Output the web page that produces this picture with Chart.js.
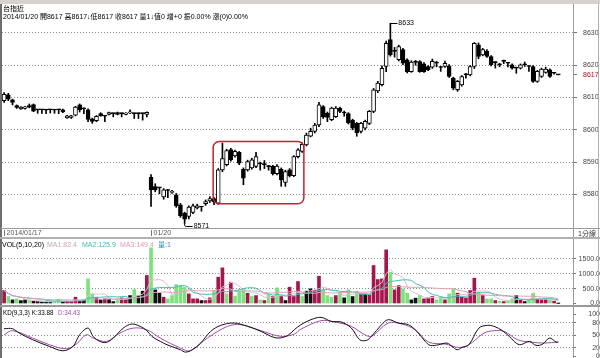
<!DOCTYPE html>
<html><head><meta charset="utf-8">
<script src="https://cdn.jsdelivr.net/npm/chart.js@4.4.1/dist/chart.umd.min.js"></script>
<style>
html,body{margin:0;padding:0;background:#fff}
body{position:relative;width:600px;height:358px;overflow:hidden}
canvas{position:absolute;left:0}
.t{position:absolute;font:7px/8px "Liberation Sans","Noto Sans CJK TC",sans-serif;white-space:pre;color:#000}
.l{position:absolute}
</style></head><body>
<canvas id="cMain" width="600" height="238" style="top:0"></canvas>
<canvas id="cVol" width="600" height="70" style="top:238px"></canvas>
<canvas id="cKD" width="600" height="52" style="top:306px"></canvas>

<div class="l" style="left:0;top:0;width:600px;height:4px;background:#d5d2cc"></div>
<div class="l" style="left:0;top:4px;width:2px;height:354px;background:#6e6e6e"></div>
<div class="l" style="left:573px;top:4px;width:1px;height:354px;background:#9a9a9a"></div>
<div class="l" style="left:598px;top:4px;width:1px;height:354px;background:#b0b0b0"></div>
<div class="l" style="left:0;top:228px;width:600px;height:1px;background:#9a9a9a"></div>
<div class="l" style="left:0;top:237px;width:600px;height:2px;background:#b0b0b0"></div>
<div class="l" style="left:0;top:305px;width:600px;height:2px;background:#9a9a9a"></div>

<div class="t" style="left:3px;top:5px">台指近</div>
<div class="t" style="left:3px;top:13px">2014/01/20 開8617 高8617↓低8617 收8617 量1↓值0 增+0 振0.00% 漲(0)0.00%</div>
<div class="t" style="left:578px;top:230px;color:#333">1分線</div>
<div class="t" style="left:2px;top:241px">VOL(5,10,20)</div>
<div class="t" style="left:47px;top:241px;color:#c9a7b4">MA1:82.4</div>
<div class="t" style="left:82px;top:241px;color:#3fb7b7">MA2:125.9</div>
<div class="t" style="left:120px;top:241px;color:#dc9aae">MA3:149.4</div>
<div class="t" style="left:158px;top:241px;color:#2f8fb0">量:1</div>
<div class="t" style="left:3px;top:309px;font-size:6.3px">KD(9,3,3) K:33.88</div>
<div class="t" style="left:58px;top:309px;font-size:6.3px;color:#a24aa8">D:34.43</div>

<script>
// ---------- data ----------
const dayLabels = ['2014/01/17', '01/20'];
const dayStart = [0, 35];

const openP = [8609,8610.8,8609.3,8607.5,8606.5,8606.6,8607.5,8607.8,8606.2,8606.2,8606.1,8606.2,8606.1,8606.2,8606.2,8603.7,8603.8,8604.5,8607.7,8606.5,8606.2,8603.4,8602.8,8605,8604.2,8604.8,8605,8605.3,8605,8604.8,8605.2,8605,8605,8605,8604.8,
 8585.3,8582.4,8582,8579.2,8581.2,8580.6,8579.9,8576.8,8574.2,8573.2,8574.4,8575.8,8576.1,8577.1,8578,8578.7,8577.3,8587.6,8589.2,8593.9,8591.9,8593,8587.8,8587.6,
 8588.2,8588.7,8589.5,8589.2,8588.6,8588.7,8586.4,8587.8,8583.7,8587.6,8585.8,8591.7,8593.3,8595.3,8598,8599.5,8601.5,8607.2,8605.1,8603.1,8604.1,8606.7,8605.2,8605,8603,8602,8599.5,8600.5,8602,8605.7,8612,8614,8619.6,8627.9,
 8624.3,8621.7,8624.8,8621.7,8618,8620.9,8621.1,8620.4,8619.6,8619.4,8620.6,8619.3,8619.6,8619.8,8616,8612.4,8613.9,8617,8617,8619.6,8626.3,8623.2,8624.3,8622.7,8620.8,8620.1,8621.2,8620.6,8620.1,8619.1,8619.1,8620.1,8619.6,8619.6,8615,8616.5,8617.8,8618.6,8617.5,8617];
const highP = [8611.5,8611.3,8609.5,8607.7,8607.2,8607.3,8608,8608,8606.3,8606.3,8606.3,8606.4,8606.3,8606.4,8606.4,8604.5,8604.5,8607.3,8608,8606.8,8606.5,8603.6,8604.4,8605.3,8604.4,8605.5,8605.2,8605.5,8605.2,8605.3,8606.2,8605.2,8605.2,8605.2,8605.6,
 8586.1,8583.3,8582.2,8581.8,8581.6,8581.3,8580.3,8577.2,8574.5,8576.5,8577,8577,8576.3,8578.3,8579.3,8579,8588,8595.9,8594,8594.3,8593.7,8593.3,8588.2,8590.6,
 8591.2,8593,8590,8590.5,8589,8589,8589.2,8588.2,8587.5,8588,8592,8594.2,8596,8599,8600.5,8602,8608.5,8607.5,8605.5,8607,8607.2,8607,8605.8,8605.3,8603.3,8602.3,8602.3,8603,8606,8612.8,8615,8619.8,8627.5,8633,
 8625.5,8626.2,8625.2,8622,8621.4,8621.5,8621.4,8620.8,8619.9,8621.9,8621.2,8619.6,8621.3,8620.2,8616.3,8615.3,8616.8,8617.5,8619.9,8627,8626.9,8625.2,8624.8,8623,8621.1,8620.6,8621.6,8620.9,8620.4,8619.4,8620.4,8621,8619.9,8619.9,8618.4,8619.1,8619.4,8618.9,8617.8,8617];
const lowP = [8608.5,8609,8607.7,8606.6,8606.3,8606.4,8606.8,8605.6,8605.1,8605.1,8605,8605.2,8605.1,8605,8605.3,8603.5,8603.5,8604.3,8605.5,8605,8602.5,8602,8602.5,8604.2,8602.5,8604.6,8604,8604.6,8604,8604.6,8605,8603.5,8603.5,8603,8604,
 8576.3,8580.8,8580.2,8578.5,8579,8580.3,8576,8572.9,8571,8572.4,8574,8575.5,8574.8,8576.6,8577.5,8576.8,8576.9,8587,8588.8,8590.3,8591.5,8589.2,8583,8587.2,
 8587.8,8588.3,8587.5,8588,8587.5,8586,8586,8582.5,8582.5,8585.4,8585.5,8591.3,8593,8595,8597.8,8599,8601,8603.5,8602.5,8602.8,8603.8,8605.3,8604.2,8601.8,8600,8598,8599,8600,8601.6,8605.3,8611.5,8613.6,8618,8622.8,
 8622.5,8621.3,8620.2,8617.6,8617.8,8620,8617.8,8617.8,8618.3,8619,8619.5,8618.1,8619.3,8616.2,8612.4,8611.9,8613.5,8616,8616.7,8619,8622,8622.9,8622.4,8619.8,8619.1,8619.5,8620.5,8619.5,8618.8,8617.5,8618.8,8619.6,8618.1,8614.7,8614.7,8616.2,8617.5,8616.2,8617.2,8617];
const closeP = [8611,8609.5,8608.5,8606.9,8607,8607.1,8607,8605.8,8606.2,8606.2,8606.1,8606.2,8606.1,8606.2,8605.5,8604.3,8604.3,8607,8606.2,8606.5,8603.2,8602.6,8604.2,8604.3,8604.2,8605.3,8605,8604.8,8605,8605.2,8605.6,8605,8605,8605,8605.4,
 8581.4,8581.4,8582,8581.4,8581.2,8581,8576.5,8573.4,8572.3,8576.1,8576.5,8576.5,8576.1,8577.8,8578.7,8577.7,8587.6,8591.1,8593.6,8590.7,8593.3,8589.7,8585,8590.2,
 8590.7,8591.7,8589.5,8589.2,8588.6,8586.4,8588.8,8584.5,8587.1,8585.8,8591.7,8593.8,8595.5,8598.4,8599.5,8601.5,8607.7,8604,8603.8,8606.7,8606.7,8605.7,8605.2,8602.1,8600.5,8599,8602,8602.6,8605.7,8612.4,8614.5,8619,8626.8,8623.2,
 8624.3,8625.8,8620.6,8618,8621,8620.9,8618,8618,8618.6,8621.2,8620.6,8619.3,8620.6,8616.5,8612.9,8615,8616.5,8617,8619.6,8626.8,8622.7,8624.8,8622.7,8620.1,8620.8,8620.1,8621.2,8620.6,8619.1,8619.1,8620.1,8620.1,8619.6,8615,8618.1,8618.8,8618.8,8616.5,8617.5,8617];

const volume = [437,235,122,156,100,122,100,77,65,55,50,50,65,145,65,75,65,212,100,122,830,325,190,122,156,145,65,156,190,156,268,471,268,415,943,
 1876,460,347,212,156,268,639,605,549,325,156,156,
 100,100,190,437,887,1201,325,718,246,437,493,347,246,268,122,100,302,235,527,235,100,549,235,740,235,415,493,437,920,460,268,212,268,381,190,460,235,415,325,325,291,1280,808,830,1808,1055,
 460,605,493,347,122,179,268,156,190,235,122,212,122,325,493,347,212,190,437,853,381,268,156,156,100,77,65,100,156,268,122,65,122,347,145,122,122,122,77,1];
// M = up (maroon), G = down (green), K = flat (black)
const volDir = ('MGKGKKGKKKKKGGKMMMKKGGMKMKKGMMKGKKM' + 'GKKMGGGGGMMM' +
 'KMMGMMGMGGGMGMGMGMGMKMMMGKKMMGGGMGKGKGMKMMMMMG' +
 'MMGGKKGMMMGGMGGMMMMMGMGGMGMGGKMKGGMMMGMK').split('');

const kIdx = [0,2,3.6,6.8,10.8,14,16.4,18,20,21.2,22.8,24.4,26,28.4,30.4,32.4,34,35.2,37.2,38.8,42,43.2,44.8,46.8,49.2,51.6,54.8,58,61.2,63.6,65.5,67.6,69.1,70.7,73.1,75.5,77.9,80.3,82.7,84.7,86.3,87.5,89.9,91.5,93.9,96.3,98.3,100.3,101.5,103.5,105.5,106.7,107.9,109.1,110.7,113.1,115.1,116.7,118.7,120.3,122.7,125.1,126.7,128.3,129.9,131.5,132];
const kVal = [66,66,55.6,39.6,23.6,13.2,23.6,51.6,67.5,47.6,35.6,33.2,43.6,67.5,77.2,71.6,61.2,47.6,35.6,27.6,15.6,10,15.6,31.6,59.6,74,79.6,71.6,59.6,47.6,43.6,50,63.5,75.6,87.6,93.2,83.6,82,67.5,39.6,38,47.6,75.6,87.6,79.6,75.6,59.6,35.6,26,27.6,31.6,23.6,15.6,21.2,27.6,67.5,74,71.6,61.2,47.6,27.6,35.6,26,29.2,43.6,33.9,33.88];
const dIdx = [0,2,6.8,10.8,14.8,17.2,19.6,21.2,24.4,27.6,30.8,34,37.2,42,44.4,48.4,53.2,56.4,61.2,65.9,69.1,70.7,75.5,78.7,82.7,85.9,87.5,91.5,94.7,97.9,101.1,105.1,108.3,110.7,114.3,116.7,119.1,122.3,125.5,128.7,132];
const dVal = [51.6,61.2,43.6,27.6,18,29.2,51.6,43.6,35.6,55.6,67.5,63.5,43.6,19.7,13.2,43.6,71.6,75.6,61.2,47.6,53.2,65,85.2,82,71.6,51.6,47.6,79.6,77.2,63.5,34,29.2,21.2,27.6,55.6,61.2,59.6,39.6,34,31.6,34.43];

const priceTicks = [8580,8590,8600,8610,8620,8630];
const lastPrice = 8617;
const volTicks = [0,500,1000,1500];
const kdTicks = [0,20,50,80,100];
const kdGrid = [20,50,80];
const maPeriods = [5,10,20];
const boxIdx = [49.8, 71.4];
const boxPrice = [8577.1, 8596.4];

// ---------- styling ----------
const SLOTS = 136;
const FONT = {family:'Liberation Sans', size:7};
Chart.defaults.font.family = 'Liberation Sans';
const dirColor = {M:'#a3174f', G:'#7fe07f', K:'#111111'};
const maColors = ['#dcc0cb','#3fbcbc','#e2a0b4'];

const xAxis = () => ({type:'linear', min:-0.5, max:SLOTS-0.5, offset:false, display:false, grid:{offset:false}});
function rightAxis(min, max, ticks, gridSet, fmt, tk) {
  return {
    position:'right', min, max,
    afterFit(s){ s.width = 27; s.paddingTop = 0; s.paddingBottom = 0; },
    afterBuildTicks(s){ s.ticks = ticks.map(v => ({value:v})); },
    grid:{
      color: c => (c.tick && gridSet.includes(c.tick.value)) ? '#8c8c8c' : 'rgba(0,0,0,0)',
      tickColor:'#777', tickLength: tk.len, tickBorderDash:[], lineWidth:1
    },
    border:{display:false, dash:[1,2]},
    ticks:{
      font:FONT, padding:tk.pad, crossAlign:tk.align, autoSkip:false,
      color: c => (c.tick && c.tick.value === lastPrice && tk.price) ? '#c00018' : '#444',
      callback: fmt
    }
  };
}
const baseOpts = (padding) => ({
  responsive:false, animation:false, devicePixelRatio:1,
  layout:{padding},
  plugins:{legend:{display:false}, tooltip:{enabled:false}},
  events:[]
});

// ---------- main price chart ----------
const idx = openP.map((_, i) => i);
const wickData = idx.map(i => ({x:i, y:[lowP[i], highP[i]]}));
const bodyData = idx.map(i => ({x:i, y:[openP[i], closeP[i]]}));
const bodyFill = idx.map(i => closeP[i] > openP[i] ? '#ffffff' : '#000000');

const annot = {
  id:'annot',
  afterDatasetsDraw(chart){
    const {ctx, scales:{x, y}} = chart;
    ctx.save();
    const x0 = x.getPixelForValue(boxIdx[0]), x1 = x.getPixelForValue(boxIdx[1]);
    const y0 = y.getPixelForValue(boxPrice[1]), y1 = y.getPixelForValue(boxPrice[0]);
    ctx.strokeStyle = '#cc1f2e'; ctx.lineWidth = 1.5;
    ctx.beginPath(); ctx.roundRect(x0, y0, x1 - x0, y1 - y0, 6); ctx.stroke();
    ctx.font = '7px "Liberation Sans"'; ctx.fillStyle = '#000'; ctx.strokeStyle = '#000'; ctx.lineWidth = 1;
    ctx.textBaseline = 'middle'; ctx.textAlign = 'left';
    let hi = 0, lo = 0;
    highP.forEach((v, i) => { if (v > highP[hi]) hi = i; });
    lowP.forEach((v, i) => { if (v < lowP[lo]) lo = i; });
    const hx = x.getPixelForValue(hi), hy = y.getPixelForValue(highP[hi]);
    ctx.beginPath(); ctx.moveTo(hx, Math.round(hy) + 0.5); ctx.lineTo(hx + 7, Math.round(hy) + 0.5); ctx.stroke();
    ctx.fillText(String(Math.round(highP[hi])), hx + 8, hy);
    const lx = x.getPixelForValue(lo), ly = y.getPixelForValue(lowP[lo]);
    ctx.beginPath(); ctx.moveTo(lx, ly); ctx.lineTo(lx, ly + 2); ctx.quadraticCurveTo(lx, ly + 3, lx + 2, ly + 3); ctx.lineTo(lx + 8, ly + 3); ctx.stroke();
    ctx.fillText(String(Math.round(lowP[lo])), lx + 9, ly + 3);
    ctx.fillStyle = '#555'; ctx.strokeStyle = '#777';
    dayStart.forEach((s, k) => {
      const px = x.getPixelForValue(s);
      ctx.beginPath(); ctx.moveTo(Math.round(px) + 0.5, 230); ctx.lineTo(Math.round(px) + 0.5, 236); ctx.stroke();
      ctx.fillText(dayLabels[k], px + 2.5, 233);
    });
    ctx.restore();
  }
};

new Chart(document.getElementById('cMain'), {
  type:'bar',
  data:{datasets:[
    {data:wickData, backgroundColor:'#000', borderWidth:0, barThickness:1, grouped:false, order:2},
    {data:bodyData, backgroundColor:bodyFill, borderColor:'#000', borderWidth:1, borderSkipped:false,
     barThickness:4, minBarLength:1, grouped:false, order:1}
  ]},
  options:Object.assign(baseOpts({left:2, right:0, top:9, bottom:10}), {
    scales:{
      x:xAxis(),
      y:rightAxis(8569.6, 8637.4, priceTicks.concat([lastPrice]), priceTicks,
        v => String(v), {len:4, pad:6, align:'near', price:true})
    }
  }),
  plugins:[annot]
});

// ---------- volume chart ----------
function movingAvg(n){
  return volume.map((_, i) => {
    const s = Math.max(0, i - n + 1);
    const w = volume.slice(s, i + 1);
    return {x:i, y:w.reduce((a, b) => a + b, 0) / w.length};
  });
}
new Chart(document.getElementById('cVol'), {
  type:'bar',
  data:{datasets:[
    {type:'bar', data:volume.map((v, i) => ({x:i, y:v})), backgroundColor:volDir.map(d => dirColor[d]),
     borderWidth:0, barThickness:3, order:5},
    ...maPeriods.map((n, k) => ({type:'line', data:movingAvg(n), borderColor:maColors[k], borderWidth:1,
      pointRadius:0, tension:0, order:3 - k}))
  ]},
  options:Object.assign(baseOpts({left:2, right:0, top:0, bottom:3}), {
    scales:{
      x:xAxis(),
      y:rightAxis(-50.6, 2207, volTicks, [500,1000,1500], v => Number(v).toFixed(1), {len:3, pad:-2, align:'far'})
    }
  })
});

// ---------- KD chart ----------
new Chart(document.getElementById('cKD'), {
  type:'line',
  data:{datasets:[
    {data:kIdx.map((v, i) => ({x:v, y:kVal[i]})), borderColor:'#111', borderWidth:1, pointRadius:0, tension:0.35, order:1},
    {data:dIdx.map((v, i) => ({x:v, y:dVal[i]})), borderColor:'#a24aa8', borderWidth:1, pointRadius:0, tension:0.35, order:2}
  ]},
  options:Object.assign(baseOpts({left:2, right:0, top:0, bottom:0}), {
    scales:{
      x:xAxis(),
      y:rightAxis(-4.1, 120.3, kdTicks, kdGrid, v => String(v), {len:3, pad:0, align:'far'})
    }
  })
});
</script>
</body></html>
